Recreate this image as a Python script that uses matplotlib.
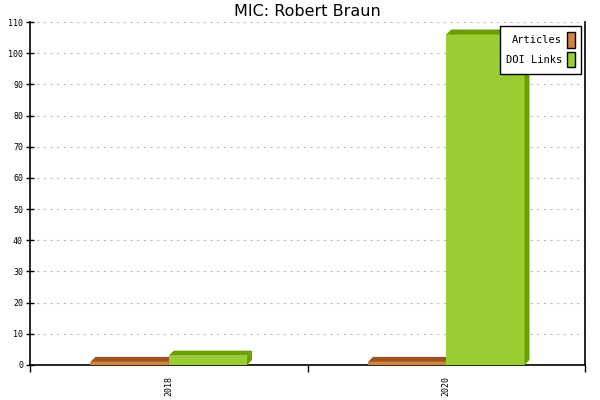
import matplotlib
matplotlib.use("Agg")
import matplotlib.pyplot as plt
from matplotlib.patches import Polygon

years = ["2018", "2020"]
articles = [1, 1]
doi_links = [3, 106]

series = [
    ("Articles", articles, "#cd853f", "#a0521d"),
    ("DOI Links", doi_links, "#9acd32", "#6b9e00"),
]

fig = plt.figure(figsize=(6, 4), dpi=100)
ax = fig.add_axes([0.05, 0.0875, 0.925, 0.8575])

bar_w = 0.282
dx = 0.018   # depth in x units
dy = 1.6     # depth in y units

for i, (name, vals, front, shade) in enumerate(series):
    xs = [k + 0.5 - bar_w + i * bar_w for k in range(len(years))]
    ax.bar(xs, vals, width=bar_w, align="edge", color=front, label=name,
           edgecolor="none", zorder=3)
    for x0, v in zip(xs, vals):
        top = Polygon([(x0, v), (x0 + dx, v + dy), (x0 + bar_w + dx, v + dy), (x0 + bar_w, v)],
                      closed=True, facecolor=shade, edgecolor="none", zorder=3)
        side = Polygon([(x0 + bar_w, 0), (x0 + bar_w + dx, dy), (x0 + bar_w + dx, v + dy), (x0 + bar_w, v)],
                       closed=True, facecolor=shade, edgecolor="none", zorder=3)
        ax.add_patch(top)
        ax.add_patch(side)

ax.set_xlim(0, len(years))
ax.set_ylim(0, 110)
ax.set_yticks(range(0, 111, 10))
ax.set_yticklabels([str(t) for t in range(0, 111, 10)], family="DejaVu Sans Mono", fontsize=6)
ax.set_xticks(range(len(years) + 1))
ax.set_xticklabels([])
ax.set_xticks([k + 0.5 for k in range(len(years))], minor=True)
ax.set_xticklabels(years, minor=True, rotation=90, family="DejaVu Sans Mono", fontsize=6)
ax.tick_params(axis="x", which="minor", length=0, pad=8)
ax.tick_params(axis="x", which="major", direction="out", length=5, width=1)
ax.tick_params(axis="y", direction="inout", length=6, width=1, pad=2)

ax.grid(axis="y", color="#bbbbbb", linestyle=(0, (2, 4)), linewidth=0.8, zorder=0)
ax.spines["top"].set_visible(False)
for s in ("left", "bottom", "right"):
    ax.spines[s].set_linewidth(1.2)

ax.set_title("MIC: Robert Braun", fontsize=11.5, pad=4)

leg = ax.legend(loc="upper right", prop={"family": "DejaVu Sans Mono", "size": 7.5},
                markerfirst=False, fancybox=False, framealpha=1, edgecolor="black",
                handlelength=0.7, handleheight=1.9, labelspacing=0.4,
                borderpad=0.6, handletextpad=0.5, borderaxespad=0.4)
leg.get_frame().set_linewidth(1)
for h in leg.legend_handles:
    h.set_edgecolor("black")
    h.set_linewidth(1)

fig.savefig("out.png", dpi=100)
